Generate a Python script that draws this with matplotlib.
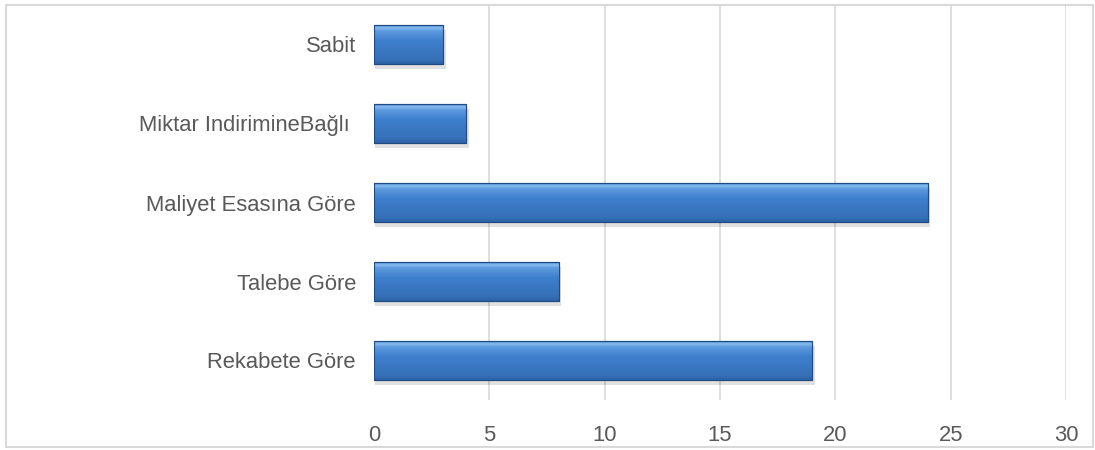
import matplotlib
matplotlib.use("Agg")
import matplotlib.pyplot as plt
import numpy as np
from matplotlib.colors import LinearSegmentedColormap
from matplotlib.patches import Rectangle

categories = ["Rekabete Göre", "Talebe Göre", "Maliyet Esasına Göre",
              "Miktar IndirimineBağlı ", "Sabit"]
values = [19, 8, 24, 4, 3]
xticks = [0, 5, 10, 15, 20, 25, 30]

plt.rcParams['font.family'] = ['Liberation Sans', 'DejaVu Sans']

fig = plt.figure(figsize=(10.95, 4.5), dpi=100)
ax = fig.add_axes([374 / 1095, 50 / 450, (1066 - 374) / 1095, (400 - 5) / 450])

# outer border
fig.patches.append(Rectangle((6 / 1095, 3 / 450), 1087 / 1095, 442 / 450,
                             transform=fig.transFigure, fill=False,
                             edgecolor='#d9d9d9', linewidth=1.5))

y = np.arange(len(categories))
height = 0.49
bars = ax.barh(y, values, height=height, color='#3d7cc9',
               edgecolor='#1f4b82', linewidth=0.8, zorder=3)

cmap = LinearSegmentedColormap.from_list(
    'bev', [(0.0, '#2d62a6'), (0.12, '#3670b8'), (0.6, '#3e7fcd'),
            (0.85, '#5d9ade'), (0.93, '#86bdf0'), (1.0, '#4a86cf')])
grad = np.linspace(0, 1, 256).reshape(-1, 1)
for b in bars:
    x0, y0 = b.get_x(), b.get_y()
    w, h = b.get_width(), b.get_height()
    # shadow
    ax.add_patch(Rectangle((x0 + 0.05, y0 - 0.06), w + 0.05, h,
                           facecolor='#000000', alpha=0.12, linewidth=0,
                           zorder=2))
    im = ax.imshow(grad, extent=[x0, x0 + w, y0, y0 + h], origin='lower',
                   cmap=cmap, aspect='auto', zorder=3.5,
                   interpolation='bilinear')
    im.set_clip_path(b)
    ax.add_patch(Rectangle((x0, y0), w, h, fill=False, edgecolor='#1f4b82',
                           linewidth=0.8, zorder=4))

ax.set_xlim(0, 30)
ax.set_ylim(-0.5, len(categories) - 0.5)
ax.set_xticks(xticks)
ax.set_xticklabels([str(t) for t in xticks])
ax.set_yticks(y)
ax.set_yticklabels(categories)
for t in xticks[1:]:
    ax.axvline(t, color='#d9d9d9', linewidth=1.2, zorder=1)
for s in ax.spines.values():
    s.set_visible(False)
ax.tick_params(axis='both', length=0, labelsize=15.8, colors='#595959')
ax.tick_params(axis='y', pad=13)
ax.tick_params(axis='x', pad=18)

fig.savefig('out.png', dpi=100)
